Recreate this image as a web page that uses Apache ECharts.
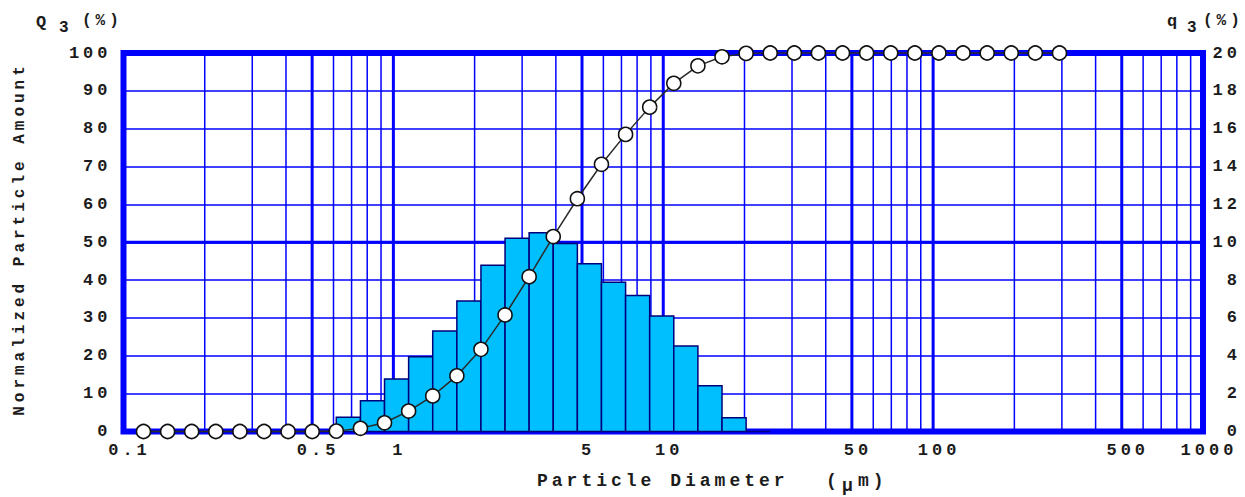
<!DOCTYPE html>
<html>
<head>
<meta charset="utf-8">
<title>Particle size distribution</title>
<script src="https://cdn.jsdelivr.net/npm/echarts@6.0.0/dist/echarts.min.js"></script>
<style>
  html, body { margin: 0; padding: 0; background: #fff; }
  #chart { width: 1245px; height: 497px; }
  /* the original uses a wide-tracked typewriter face */
  #chart text { letter-spacing: 4px; }
</style>
</head>
<body>
<div id="chart"></div>
<script>
const diameters = [
  0.1186, 0.1457, 0.1789, 0.2198, 0.2700, 0.3317, 0.4073, 0.5003, 0.6145, 0.7551,
  0.9273, 1.139, 1.399, 1.719, 2.111, 2.593, 3.185, 3.912, 4.806, 5.903,
  7.252, 8.907, 10.94, 13.44, 16.51, 20.28, 24.91, 30.60, 37.58, 46.16,
  56.70, 69.66, 85.55, 105.1, 129.1, 158.6, 194.8, 239.2, 293.9
];
// Q3 cumulative (%) at each point
const cumulative = [
  0, 0, 0, 0, 0, 0, 0, 0, 0.1, 0.85,
  2.3, 5.4, 9.4, 14.7, 21.7, 30.8, 40.9, 51.5, 61.5, 70.6,
  78.5, 85.7, 92.0, 96.6, 99.0, 99.9, 100, 100, 100, 100,
  100, 100, 100, 100, 100, 100, 100, 100, 100
];
// q3 (%) for the band diameters[i] .. diameters[i+1]
const frequency = [
  0, 0, 0, 0, 0, 0, 0, 0, 0.75, 1.63,
  2.77, 3.95, 5.31, 6.90, 8.78, 10.21, 10.50, 9.94, 8.87, 7.88,
  7.18, 6.10, 4.52, 2.42, 0.73, 0
];
const xTickValues = [0.1, 0.5, 1, 5, 10, 50, 100, 500, 1000];
const xTickLabels = ['0.1', '0.5', '1', '5', '10', '50', '100', '500', '1000'];
const majorGridX = [0.5, 1, 5, 10, 50, 100, 500];
const minorGridX = [0.2, 0.3, 0.4, 0.6, 0.7, 0.8, 0.9, 2, 3, 4, 6, 7, 8, 9,
  20, 30, 40, 60, 70, 80, 90, 200, 300, 400, 600, 700, 800, 900];
const majorGridY = [50];

const BLUE = '#0000ff';
const INK = '#1c1c1c';
const FONT = '"Liberation Mono", "Courier New", monospace';

const chart = echarts.init(document.getElementById('chart'), null, { renderer: 'svg' });

function vLine(width) {
  return function (params, api) {
    const cs = params.coordSys;
    const x = api.coord([api.value(0), 0])[0];
    return {
      type: 'line',
      shape: { x1: x, y1: cs.y, x2: x, y2: cs.y + cs.height },
      style: { stroke: BLUE, lineWidth: width }
    };
  };
}

function hLine(params, api) {
  const cs = params.coordSys;
  const y = api.coord([1, api.value(1)])[1];
  return {
    type: 'line',
    shape: { x1: cs.x, y1: y, x2: cs.x + cs.width, y2: y },
    style: { stroke: BLUE, lineWidth: 3 }
  };
}

function renderBar(params, api) {
  const top = api.coord([api.value(0), api.value(2)]);
  const base = api.coord([api.value(1), 0]);
  return {
    type: 'rect',
    shape: { x: top[0], y: top[1], width: base[0] - top[0], height: base[1] - top[1] },
    style: { fill: '#00bfff', stroke: '#00007a', lineWidth: 1.5 }
  };
}

function renderTick(params, api) {
  const p = api.coord([api.value(0), 0]);
  return {
    type: 'text',
    x: p[0] + 6,
    y: p[1] + 10,
    style: {
      text: xTickLabels[params.dataIndex],
      font: 'bold 17px ' + FONT,
      fill: INK,
      align: 'center',
      verticalAlign: 'top'
    }
  };
}

function label(text, x, y, size, extra) {
  return Object.assign({
    type: 'text', x: x, y: y, silent: true,
    style: { text: text, font: 'bold ' + size + 'px ' + FONT, fill: INK, align: 'left', verticalAlign: 'middle' }
  }, extra || {});
}

const option = {
  animation: false,
  backgroundColor: '#fff',
  grid: {
    left: 123.5, right: 42, top: 53, bottom: 65.5,
    show: true, borderWidth: 6, borderColor: BLUE, backgroundColor: '#fff',
    outerBoundsMode: 'none'
  },
  xAxis: {
    type: 'log', logBase: 10, min: 0.1, max: 1000,
    axisLine: { show: false }, axisTick: { show: false },
    axisLabel: { show: false }, splitLine: { show: false }
  },
  yAxis: [
    {
      type: 'value', min: 0, max: 100, interval: 10,
      axisLine: { show: false }, axisTick: { show: false },
      axisLabel: { fontSize: 17, fontWeight: 'bold', fontFamily: FONT, color: INK, margin: 12 },
      splitLine: { show: true, lineStyle: { color: BLUE, width: 1.5 } }
    },
    {
      type: 'value', min: 0, max: 20, interval: 2, position: 'right',
      axisLine: { show: false }, axisTick: { show: false },
      axisLabel: { fontSize: 17, fontWeight: 'bold', fontFamily: FONT, color: INK, margin: 38, align: 'right' },
      splitLine: { show: false }
    }
  ],
  graphic: [
    label('Q', 36, 22, 17),
    label('3', 59, 28, 16),
    label('(%)', 82, 21, 16),
    label('q', 1167, 21, 17),
    label('3', 1187, 28, 16),
    label('(%)', 1203, 21, 16),
    label('Normalized Particle Amount', 19.5, 239, 16, {
      rotation: Math.PI / 2,
      style: { text: 'Normalized Particle Amount', font: 'bold 16px ' + FONT, fill: INK, align: 'center', verticalAlign: 'middle' }
    }),
    label('Particle Diameter', 537, 481, 18),
    label('(', 826, 481, 18),
    label('\u03bc', 842, 486, 18),
    label('m)', 858, 481, 18)
  ],
  series: [
    {
      type: 'custom', name: 'minor grid', silent: true, z: 1,
      renderItem: vLine(1.5),
      encode: { x: 0, y: 1 },
      data: minorGridX.map(v => [v, 0])
    },
    {
      type: 'custom', name: 'major grid', silent: true, z: 1,
      renderItem: vLine(3),
      encode: { x: 0, y: 1 },
      data: majorGridX.map(v => [v, 0])
    },
    {
      type: 'custom', name: 'major grid y', silent: true, z: 1,
      renderItem: hLine,
      encode: { x: 0, y: 1 },
      data: majorGridY.map(v => [1, v])
    },
    {
      type: 'custom', name: 'x ticks', silent: true, z: 1,
      renderItem: renderTick,
      encode: { x: 0, y: 1 },
      data: xTickValues.map(v => [v, 0])
    },
    {
      type: 'custom', name: 'q3', yAxisIndex: 1, z: 2,
      renderItem: renderBar,
      encode: { x: [0, 1], y: 2 },
      data: frequency.map((v, i) => [diameters[i], diameters[i + 1], v])
    },
    {
      type: 'line', name: 'Q3', yAxisIndex: 0, z: 3, clip: false,
      data: diameters.map((d, i) => [d, cumulative[i]]),
      symbol: 'circle', symbolSize: 14, showAllSymbol: true,
      lineStyle: { color: '#2a2a2a', width: 1.5 },
      itemStyle: { color: '#fff', borderColor: '#111', borderWidth: 1.6 }
    }
  ]
};

chart.setOption(option);
</script>
</body>
</html>
